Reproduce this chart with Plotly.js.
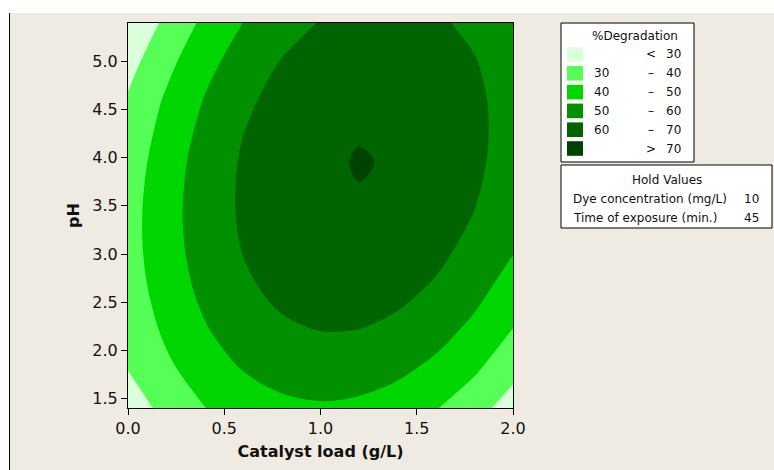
<!DOCTYPE html>
<html><head><meta charset="utf-8">
<script src="https://cdn.plot.ly/plotly-3.0.1.min.js"></script>
<style>
html,body{margin:0;padding:0;background:#fff;width:774px;height:470px;overflow:hidden;}
#chart{position:absolute;left:9px;top:13px;width:764px;height:457px;border-left:1px solid #000;}
</style></head><body>
<div id="chart"></div>
<script>
// ---- data ----
const catalystLoad = [0, 0.2, 0.4, 0.6, 0.8, 1.0, 1.1, 1.2, 1.3, 1.4, 1.6, 1.8, 2.0];
const pH = [1.4, 1.8, 2.2, 2.6, 3.0, 3.4, 3.7, 3.95, 4.2, 4.6, 5.0, 5.4];
const degradation = [
  [24.4, 33.1, 39.9, 44.8, 47.8, 48.9, 48.7, 48.0, 46.8, 45.2, 40.5, 33.9, 25.3],
  [30.2, 38.0, 45.1, 50.3, 53.6, 55.0, 55.0, 54.4, 53.5, 52.0, 47.6, 41.3, 33.0],
  [32.4, 41.8, 49.2, 54.8, 58.4, 60.03, 60.1, 59.8, 58.9, 57.6, 53.5, 47.5, 39.6],
  [34.8, 44.5, 52.2, 58.1, 62.0, 63.9, 64.2, 64.0, 63.3, 62.2, 58.4, 52.7, 45.1],
  [36.1, 46.0, 54.1, 60.2, 64.5, 66.8, 67.2, 67.1, 66.6, 65.6, 62.1, 56.8, 50.1],
  [36.2, 46.5, 54.9, 61.3, 65.9, 68.5, 69.1, 69.2, 68.8, 67.9, 64.8, 59.7, 52.7],
  [35.6, 46.1, 54.7, 61.4, 66.2, 69.0, 69.7, 69.95, 69.7, 69.0, 66.1, 61.2, 54.5],
  [34.6, 45.4, 54.2, 61.0, 66.0, 69.0, 69.8, 70.2, 69.95, 69.3, 66.6, 62.0, 55.4],
  [33.2, 44.1, 53.1, 60.2, 65.4, 68.6, 69.5, 69.9, 69.8, 69.3, 66.8, 62.3, 56.0],
  [31.0, 41.3, 50.6, 58.0, 63.4, 67.0, 68.0, 68.6, 68.7, 68.3, 66.1, 62.0, 55.9],
  [26.5, 37.3, 46.9, 54.6, 60.4, 64.3, 65.5, 66.2, 66.4, 66.2, 64.3, 60.5, 54.7],
  [20.4, 32.3, 42.2, 50.2, 56.3, 60.4, 61.8, 62.7, 63.1, 63.0, 61.4, 57.9, 52.5]
];
const levels = [30, 40, 50, 60, 70];
const bandColors = ['#DAFFDA', '#55FF55', '#00D700', '#009000', '#006400', '#004300'];
const xTicks = [0, 0.5, 1.0, 1.5, 2.0];
const yTicks = [1.5, 2.0, 2.5, 3.0, 3.5, 4.0, 4.5, 5.0];
const legendTitle = '%Degradation';
const legendLower = ['', '30', '40', '50', '60', ''];
const legendSymbol = ['<', '\u2013', '\u2013', '\u2013', '\u2013', '>'];
const legendUpper = ['30', '40', '50', '60', '70', '70'];
const holdTitle = 'Hold Values';
const holdNames = ['Dye concentration (mg/L)', 'Time of exposure (min.)'];
const holdValues = ['10', '45'];

// ---- drawing ----
const FONT = 'DejaVu Sans, Verdana, sans-serif';
const TXT = '#111111';
const PX = X => (X - 128) / 385;   // page pixel -> paper x
const PY = Y => (408 - Y) / 385;   // page pixel -> paper y

const n = bandColors.length;
const colorscale = bandColors.map((c, i) => [i / (n - 1), c]);

const trace = {
  type: 'contour',
  x: catalystLoad, y: pH, z: degradation,
  autocontour: false,
  contours: {start: levels[0], end: levels[levels.length - 1], size: levels[1] - levels[0], coloring: 'fill', showlines: false},
  line: {width: 0, smoothing: 1},
  colorscale: colorscale,
  showscale: false,
  hoverinfo: 'skip'
};

const shapes = [];
const annotations = [];
const ann = (X, Y, text, xanchor, extra) => annotations.push(Object.assign({
  xref: 'paper', yref: 'paper', x: PX(X), y: PY(Y), text: text, showarrow: false,
  xanchor: xanchor, yanchor: 'middle', font: {family: FONT, size: 12, color: TXT}
}, extra || {}));

// legend box
shapes.push({type: 'rect', xref: 'paper', yref: 'paper', x0: PX(561), x1: PX(694), y0: PY(23), y1: PY(162),
  fillcolor: '#FFFFFF', line: {color: '#000', width: 1}});
ann(635, 36, legendTitle, 'center');
for (let i = 0; i < bandColors.length; i++) {
  const cy = 54.5 + i * 18.8;
  shapes.push({type: 'rect', xref: 'paper', yref: 'paper', x0: PX(567), x1: PX(583), y0: PY(cy - 7.3), y1: PY(cy + 7.3),
    fillcolor: bandColors[i], line: {width: 0}});
  if (legendLower[i]) ann(592, cy, legendLower[i], 'left');
  ann(651, cy, legendSymbol[i], 'center');
  ann(683, cy, legendUpper[i], 'right');
}
// hold values box
shapes.push({type: 'rect', xref: 'paper', yref: 'paper', x0: PX(561), x1: PX(772), y0: PY(165), y1: PY(228),
  fillcolor: '#FFFFFF', line: {color: '#000', width: 1}});
ann(667, 180, holdTitle, 'center');
for (let i = 0; i < holdNames.length; i++) {
  const cy = 199 + i * 18.7;
  ann(571, cy, holdNames[i], 'left');
  ann(761, cy, holdValues[i], 'right');
}

const axisCommon = {
  showgrid: false, zeroline: false, showline: true, linecolor: '#000', linewidth: 1, mirror: true,
  ticks: 'outside', ticklen: 6, tickwidth: 1, tickcolor: '#000',
  tickfont: {family: FONT, size: 16, color: TXT}, tickformat: '.1f'
};

const layout = {
  width: 764, height: 457,
  margin: {l: 118, r: 261, t: 10, b: 62},
  paper_bgcolor: '#EFEBE2', plot_bgcolor: '#EFEBE2',
  showlegend: false,
  xaxis: Object.assign({}, axisCommon, {range: [0, 2], tickvals: xTicks,
    title: {text: 'Catalyst load (g/L)', font: {family: FONT, size: 16, color: TXT, weight: 'bold'}, standoff: 8}}),
  yaxis: Object.assign({}, axisCommon, {range: [1.4, 5.4], tickvals: yTicks,
    title: {text: 'pH', font: {family: FONT, size: 16, color: TXT, weight: 'bold'}, standoff: 8}}),
  shapes: shapes,
  annotations: annotations
};

Plotly.newPlot('chart', [trace], layout, {displayModeBar: false, staticPlot: true});
</script></body></html>
